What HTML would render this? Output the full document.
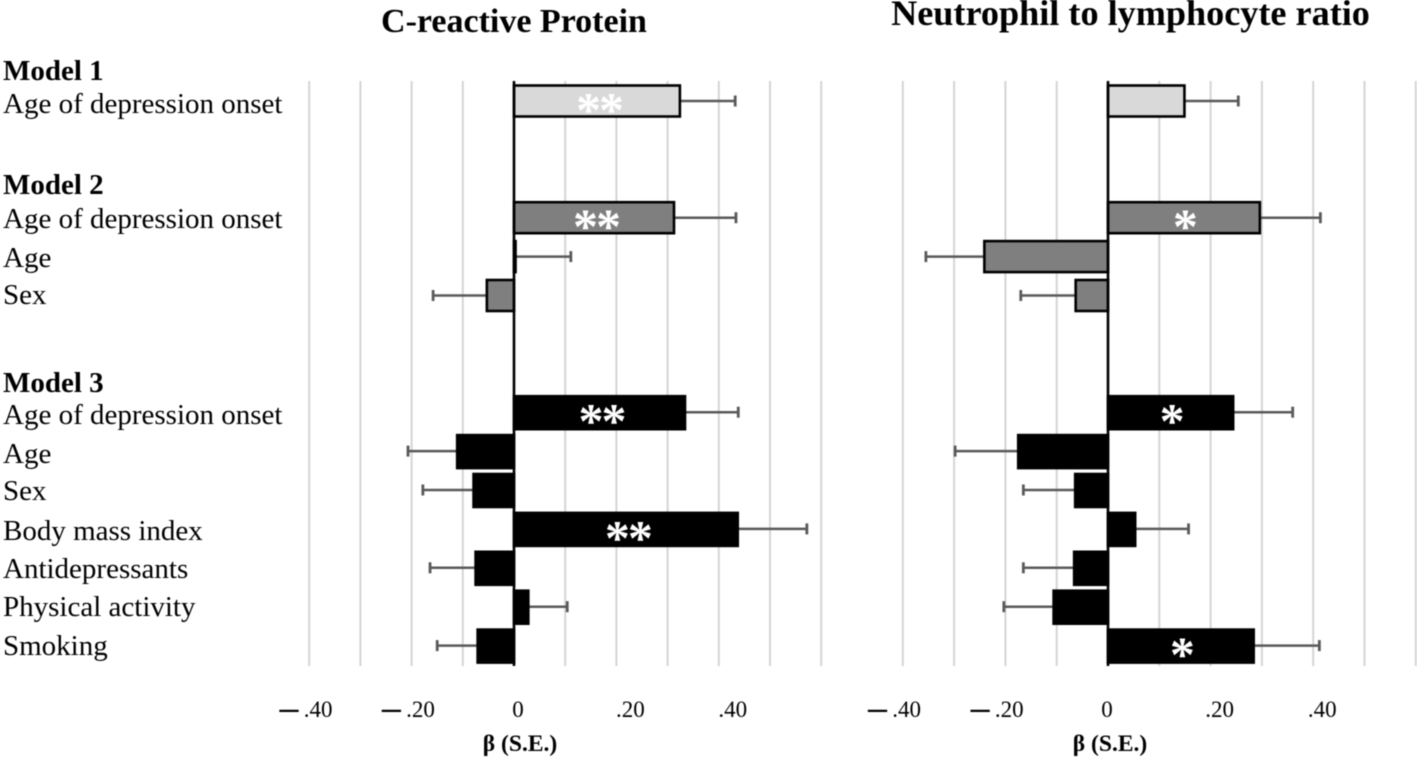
<!DOCTYPE html>
<html lang="en">
<head>
<meta charset="utf-8">
<title>C-reactive Protein and Neutrophil to lymphocyte ratio</title>
<style>
  html, body { margin: 0; padding: 0; background: #fff; }
  body { width: 1417px; height: 757px; overflow: hidden; }
  svg { display: block; filter: blur(0.4px); font-family: "Liberation Serif", serif; }
</style>
</head>
<body>
<svg id="figure" width="1417" height="757" viewBox="0 0 1417 757" xmlns="http://www.w3.org/2000/svg">
  <rect x="0" y="0" width="1417" height="757" fill="#fff"/>
  <g id="crp-chart"></g>
  <g id="nlr-chart"></g>

  <text x="514" y="32" text-anchor="middle" font-size="34" font-weight="700">C-reactive Protein</text>
  <text x="1130.5" y="25" text-anchor="middle" font-size="36.2" font-weight="700">Neutrophil to lymphocyte ratio</text>

  <g font-size="29" fill="#000">
    <text x="3" y="80" font-weight="700">Model 1</text>
    <text x="3" y="113">Age of depression onset</text>
    <text x="3" y="194" font-weight="700">Model 2</text>
    <text x="3" y="228">Age of depression onset</text>
    <text x="3" y="267">Age</text>
    <text x="3" y="304">Sex</text>
    <text x="3" y="392" font-weight="700">Model 3</text>
    <text x="3" y="424">Age of depression onset</text>
    <text x="3" y="463">Age</text>
    <text x="3" y="500">Sex</text>
    <text x="3" y="540">Body mass index</text>
    <text x="3" y="578">Antidepressants</text>
    <text x="3" y="616">Physical activity</text>
    <text x="3" y="655">Smoking</text>
  </g>

  <text x="520" y="751" text-anchor="middle" font-size="23.5" font-weight="700">β (S.E.)</text>
  <text x="1110" y="751" text-anchor="middle" font-size="23.5" font-weight="700">β (S.E.)</text>
</svg>

<script>
// Shared row slots (15 evenly spaced bands; slots 1, 2, 6, 7 are blank)
const categories = ["M1 Age of depression onset", "M2 Age of depression onset", "M2 Age", "M2 Sex", "M3 Age of depression onset", "M3 Age", "M3 Sex", "M3 Body mass index", "M3 Antidepressants", "M3 Physical activity", "M3 Smoking"];
const rowSlots = [0, 3, 4, 5, 8, 9, 10, 11, 12, 13, 14];
const modelOf = [1, 2, 2, 2, 3, 3, 3, 3, 3, 3, 3];

// C-reactive Protein
const crpBeta = [0.324, 0.3125, 0.003, -0.053, 0.334, -0.111, -0.079, 0.437, -0.075, 0.028, -0.071];
const crpSE = [0.108, 0.121, 0.108, 0.105, 0.104, 0.096, 0.099, 0.135, 0.089, 0.076, 0.079];
const crpStars = ["**", "**", "", "", "**", "", "", "**", "", "", ""];

// Neutrophil to lymphocyte ratio
const nlrBeta = [0.149, 0.296, -0.241, -0.063, 0.244, -0.175, -0.064, 0.053, -0.066, -0.106, 0.284];
const nlrSE = [0.105, 0.118, 0.114, 0.107, 0.116, 0.123, 0.101, 0.104, 0.099, 0.097, 0.128];
const nlrStars = ["", "*", "", "", "*", "", "", "", "", "", "*"];

// Axis
const gridValues = [-0.4, -0.3, -0.2, -0.1, 0.1, 0.2, 0.3, 0.4, 0.5, 0.6];
const tickValues = [-0.4, -0.2, 0, 0.2, 0.4];
const tickLabels = [".40", ".20", "0", ".20", ".40"];

const SVG_NS = "http://www.w3.org/2000/svg";
function mk(parent, tag, attrs, text) {
  const el = document.createElementNS(SVG_NS, tag);
  for (const k in attrs) el.setAttribute(k, attrs[k]);
  if (text !== undefined) el.textContent = text;
  parent.appendChild(el);
  return el;
}

const rowY = function (slot) { return 101 + slot * 38.9; };
const fills = { 1: "#d9d9d9", 2: "#7f7f7f", 3: "#000000" };

function drawChart(opts) {
  const root = document.getElementById(opts.id);
  const prefix = opts.prefix;
  const x = function (v) { return opts.zero + v * opts.scale; };

  gridValues.forEach(function (v) {
    const el = mk(root, "line", { x1: x(v), x2: x(v), y1: 81, y2: 666, stroke: "#d4d4d4", "stroke-width": 2 });
    
    
  });

  categories.forEach(function (cat, i) {
    const cy = rowY(rowSlots[i]);
    const b = opts.beta[i];
    const end = b + (b >= 0 ? opts.se[i] : -opts.se[i]);
    const line = mk(root, "line", { x1: x(b), x2: x(end), y1: cy, y2: cy, stroke: "#595959", "stroke-width": 2.5 });
    
    
    const cap = mk(root, "line", { x1: x(end), x2: x(end), y1: cy - 5.5, y2: cy + 5.5, stroke: "#595959", "stroke-width": 2.8 });
    
    
  });

  categories.forEach(function (cat, i) {
    const cy = rowY(rowSlots[i]);
    const b = opts.beta[i];
    const isBlack = modelOf[i] === 3;
    const h = isBlack ? 33 : 31;
    const left = Math.min(x(0), x(b));
    const w = Math.abs(x(b) - x(0));
    const bar = mk(root, "rect", { x: left, y: cy - h / 2 + (isBlack ? 0.5 : 0), width: w, height: h, fill: fills[modelOf[i]], stroke: "#000", "stroke-width": 2.6 });
    
    
    if (opts.stars[i]) {
      const star = mk(root, "text", { x: (x(0) + x(b)) / 2 + opts.starShift, y: cy + 25.5, "text-anchor": "middle", "font-size": 50, "font-weight": 700, "letter-spacing": opts.stars[i].length > 1 ? -2 : 0, fill: "#fff" }, opts.stars[i]);
      
      
    }
  });

  const axis = mk(root, "line", { x1: x(0), x2: x(0), y1: 81, y2: 666, stroke: "#000", "stroke-width": 2.6 });
  
  

  tickValues.forEach(function (v, i) {
    const shift = opts.labelShift + (v < 0 ? -3 : v === 0 ? 4 : 14);
    const t = mk(root, "text", { x: x(v) + shift, y: 717, "text-anchor": "middle", "font-size": 23, fill: "#000" });
    
    
    if (v < 0) {
      const dash = mk(t, "tspan", { dy: -2, "font-weight": 700, "font-size": 18, stroke: "#000", "stroke-width": 1.1 }, "\u2014");
      
      
      const rest = mk(t, "tspan", { dy: 2 }, " " + tickLabels[i]);
      
      
    } else {
      t.appendChild(document.createTextNode(tickLabels[i]));
    }
  });
}

drawChart({ id: "crp-chart", prefix: "crp", zero: 514, scale: 512, beta: crpBeta, se: crpSE, stars: crpStars, starShift: 2, labelShift: 0 });
drawChart({ id: "nlr-chart", prefix: "nlr", zero: 1108, scale: 513, beta: nlrBeta, se: nlrSE, stars: nlrStars, starShift: 1.5, labelShift: -5 });
</script>
</body>
</html>
